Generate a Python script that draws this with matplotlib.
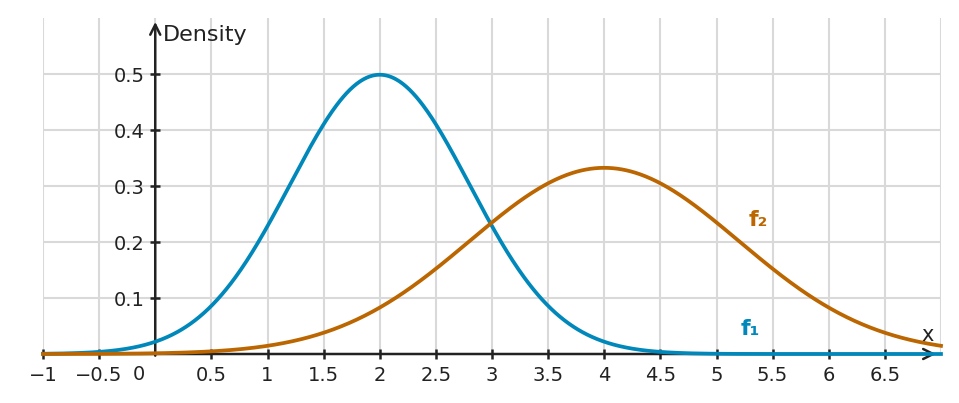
import numpy as np
import matplotlib.pyplot as plt

# Distribution parameters (normal densities)
names = ["f\u2081", "f\u2082"]
means = [2.0, 4.0]
sds = [0.8, 1.2]
colors = ["#0088bb", "#bb6600"]
label_pos = [(5.3, 0.045), (5.37, 0.24)]

xticks = [-1, -0.5, 0.5, 1, 1.5, 2, 2.5, 3, 3.5, 4, 4.5, 5, 5.5, 6, 6.5]
xticklabels = ["\u22121", "\u22120.5", "0.5", "1", "1.5", "2", "2.5", "3", "3.5", "4", "4.5", "5", "5.5", "6", "6.5"]
yticks = [0.1, 0.2, 0.3, 0.4, 0.5]
yticklabels = ["0.1", "0.2", "0.3", "0.4", "0.5"]

fig = plt.figure(figsize=(9.59, 4.03), dpi=100)
ax = fig.add_axes([43/959, 1-354/403, 898/959, 336/403])
ax.set_xlim(-1, 7)
ax.set_ylim(0, 0.6)

for s in ax.spines.values():
    s.set_visible(False)

# grid
for gx in np.arange(-1, 7.01, 0.5):
    ax.axvline(gx, color="#d9d9d9", lw=1.5, zorder=0)
for gy in [0.1, 0.2, 0.3, 0.4, 0.5]:
    ax.axhline(gy, color="#d9d9d9", lw=1.5, zorder=0)

x = np.linspace(-1, 7, 800)
for m, sd, c, nm, (lx, ly) in zip(means, sds, colors, names, label_pos):
    y = np.exp(-0.5*((x-m)/sd)**2)/(sd*np.sqrt(2*np.pi))
    ax.plot(x, y, color=c, lw=2.7, zorder=3, clip_on=False)
    ax.text(lx, ly, nm, color=c, fontsize=16, fontweight="bold", ha="center", va="center")

# axes with arrows
ap = dict(arrowstyle="->", lw=1.8, color="#222222", mutation_scale=18, shrinkA=0, shrinkB=0)
ax.annotate("", xy=(6.955, 0), xytext=(-1, 0), arrowprops=ap,
            annotation_clip=False, zorder=2)
ax.annotate("", xy=(0, 0.593), xytext=(0, -0.003), arrowprops=ap,
            annotation_clip=False, zorder=2)

ax.set_xticks(xticks)
ax.set_xticklabels(xticklabels)
ax.set_yticks(yticks)
ax.set_yticklabels(yticklabels)
ax.tick_params(axis="both", direction="inout", length=7, width=1.8, color="#222222",
               labelsize=14, labelcolor="#222222")
ax.tick_params(axis="x", pad=5)
ax.tick_params(axis="y", pad=4)
ax.yaxis.set_ticks_position("left")
ax.spines["left"].set_position(("data", 0))
ax.text(-0.15, -0.0375, "0", fontsize=14, color="#222222", ha="center", va="center")

ax.text(0.07, 0.569, "Density", fontsize=16, color="#222222", ha="left", va="center")
ax.text(6.88, 0.034, "x", fontsize=15, color="#222222", ha="center", va="center")

fig.savefig("out.png", dpi=100)
